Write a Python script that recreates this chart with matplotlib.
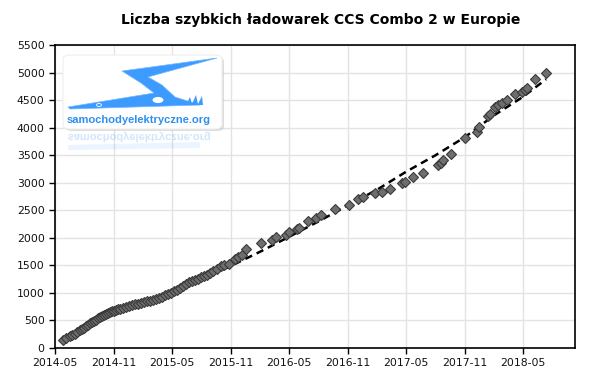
import numpy as np
import matplotlib
matplotlib.use('Agg')
import matplotlib.pyplot as plt
import matplotlib.dates as mdates
from matplotlib.patches import FancyBboxPatch, Polygon, Circle, PathPatch
from matplotlib.textpath import TextPath
from matplotlib.font_manager import FontProperties
from matplotlib.transforms import Affine2D
import pandas as pd

# data
dates = ['2014-05-26', '2014-06-04', '2014-06-17', '2014-06-23', '2014-07-02', '2014-07-09',
         '2014-07-18', '2014-07-24', '2014-07-31', '2014-08-06', '2014-08-12', '2014-08-18',
         '2014-08-25', '2014-08-31', '2014-09-06', '2014-09-12', '2014-09-18', '2014-09-25',
         '2014-10-01', '2014-10-07', '2014-10-13', '2014-10-20', '2014-10-26', '2014-11-01',
         '2014-11-07', '2014-11-14', '2014-11-20', '2014-11-29', '2014-12-09', '2014-12-18',
         '2014-12-27', '2015-01-06', '2015-01-15', '2015-01-24', '2015-02-03', '2015-02-12',
         '2015-02-22', '2015-03-03', '2015-03-12', '2015-03-22', '2015-03-31', '2015-04-09',
         '2015-04-19', '2015-04-28', '2015-05-08', '2015-05-17', '2015-05-26', '2015-06-05',
         '2015-06-14', '2015-06-23', '2015-07-03', '2015-07-12', '2015-07-21', '2015-07-31',
         '2015-08-09', '2015-08-19', '2015-08-28', '2015-09-06', '2015-09-19', '2015-10-01',
         '2015-10-11', '2015-10-26', '2015-11-14', '2015-11-23', '2015-12-06', '2015-12-18',
         '2016-02-03', '2016-03-08', '2016-03-21', '2016-04-21', '2016-05-01', '2016-05-26',
         '2016-06-01', '2016-06-29', '2016-07-24', '2016-08-08', '2016-09-21', '2016-11-04',
         '2016-12-02', '2016-12-18', '2017-01-24', '2017-02-15', '2017-03-12', '2017-04-18',
         '2017-04-28', '2017-05-23', '2017-06-23', '2017-08-09', '2017-08-18', '2017-08-24',
         '2017-09-18', '2017-11-01', '2017-12-09', '2017-12-15', '2018-01-12', '2018-01-18',
         '2018-02-03', '2018-02-12', '2018-02-25', '2018-03-12', '2018-04-06', '2018-04-28',
         '2018-05-07', '2018-05-14', '2018-06-08', '2018-07-12']
chargers = [145, 175, 215, 235, 260, 290,
            320, 345, 370, 395, 420, 445,
            470, 490, 515, 540, 560, 580,
            600, 615, 635, 650, 665, 680,
            690, 700, 715, 730, 745, 760,
            775, 790, 800, 815, 830, 845,
            860, 880, 895, 910, 930, 955,
            975, 1000, 1030, 1060, 1090, 1120,
            1160, 1190, 1215, 1240, 1260, 1280,
            1300, 1330, 1360, 1400, 1440, 1480,
            1510, 1530, 1610, 1660, 1690, 1790,
            1900, 1960, 2010, 2050, 2100, 2160,
            2185, 2305, 2365, 2410, 2520, 2595,
            2700, 2745, 2820, 2840, 2885, 2990,
            3010, 3100, 3180, 3320, 3360, 3410,
            3530, 3805, 3925, 4005, 4215, 4245,
            4370, 4410, 4440, 4500, 4605, 4640,
            4680, 4715, 4880, 5000]

# dashed trend line
trend_dates = ['2014-05-26', '2014-08-01', '2014-11-01', '2015-02-01', '2015-05-01',
               '2015-08-01', '2015-11-01', '2016-02-01', '2016-05-01', '2016-08-01',
               '2016-11-01', '2017-02-01', '2017-05-01', '2017-08-01', '2017-11-01',
               '2018-02-01', '2018-05-01', '2018-07-12']
trend = [140, 380, 620, 830, 1020, 1250, 1490, 1750, 2020, 2300,
         2590, 2880, 3200, 3500, 3830, 4230, 4560, 4880]

tick_dates = ['2014-05', '2014-11', '2015-05', '2015-11', '2016-05',
              '2016-11', '2017-05', '2017-11', '2018-05']

x = pd.to_datetime(dates)
xt = pd.to_datetime(trend_dates)

fig = plt.figure(figsize=(6, 3.81), dpi=100)
ax = fig.add_axes([0.0917, 0.0866, 0.8666, 0.7953])

ax.plot(xt, trend, color='black', lw=1.8, ls=(0, (3, 2)), zorder=3)
ax.plot(x, chargers, ls='none', marker='D', markersize=5,
        markerfacecolor='#6e6e6e', markeredgecolor='#3a3a3a', markeredgewidth=0.8, zorder=4)

ax.set_xlim(pd.Timestamp('2014-05-01'), pd.Timestamp('2018-10-10'))
ax.set_ylim(0, 5500)
ax.set_yticks(np.arange(0, 5501, 500))
ax.set_xticks(pd.to_datetime(tick_dates))
ax.xaxis.set_major_formatter(mdates.DateFormatter('%Y-%m'))
ax.tick_params(labelsize=7.8, length=4, width=1, color='black', labelcolor='#111111')
ax.grid(True, color='#e3e3e3', lw=1)
ax.set_axisbelow(True)
for s in ax.spines.values():
    s.set_linewidth(1.2)
    s.set_color('black')

fig.text(0.535, 0.948, 'Liczba szybkich ładowarek CCS Combo 2 w Europie',
         ha='center', va='center', fontsize=10, fontweight='bold')

# logo (pixel coords, y from top)
W, H = 600, 381
def fx(px):
    return px / W
def fy(py):
    return 1 - py / H

box = FancyBboxPatch((fx(63), fy(129)), fx(222) - fx(63), fy(55) - fy(129),
                     boxstyle='round,pad=0,rounding_size=0.012', transform=fig.transFigure,
                     facecolor='white', edgecolor='#eeeeee', lw=0.8, zorder=5)
shadow = FancyBboxPatch((fx(65), fy(131)), fx(222) - fx(63), fy(55) - fy(129),
                        boxstyle='round,pad=0,rounding_size=0.012', transform=fig.transFigure,
                        facecolor='#c8c8c8', edgecolor='none', alpha=0.6, zorder=4.9)
fig.patches.extend([shadow, box])

bolt = [(217, 58), (122, 71), (141, 83), (154, 93), (68, 107), (70, 109),
        (200, 105), (175, 97), (162, 85), (148, 77)]
fig.patches.append(Polygon([(fx(a), fy(b)) for a, b in bolt], closed=True,
                           transform=fig.transFigure, facecolor='#3d9bff',
                           edgecolor='#70b8ff', lw=0.5, zorder=6))
fig.patches.append(Circle((fx(99), fy(105)), 0.004, transform=fig.transFigure,
                          facecolor='#3d9bff', edgecolor='white', lw=0.6, zorder=7))
fig.patches.append(Circle((fx(158), fy(100)), 0.011, transform=fig.transFigure,
                          facecolor='white', edgecolor='#3d9bff', lw=1.6, zorder=7))
flames = [(186, 105), (190, 97), (192, 104), (196, 95), (198, 104), (202, 96), (203, 105)]
fig.patches.append(Polygon([(fx(a), fy(b)) for a, b in flames], closed=True,
                           transform=fig.transFigure, facecolor='#3d9bff',
                           edgecolor='none', zorder=6))

fig.text(fx(139), fy(120), 'samochodyelektryczne.org', ha='center', va='center',
         fontsize=8, fontweight='bold', color='#2f8fef', family='Liberation Sans', zorder=8)

# faint mirrored reflection below the logo
fp = FontProperties(family='Liberation Sans', weight='bold', size=8)
tp = TextPath((0, 0), 'samochodyelektryczne.org', prop=fp)
bb = tp.get_extents()
tr = (Affine2D().translate(-(bb.x0 + bb.x1) / 2, -(bb.y0 + bb.y1) / 2)
      .scale(100 / 72, -100 / 72).translate(139, H - 137))
fig.patches.append(PathPatch(tr.transform_path(tp), transform=None,
                             facecolor='#2f8fef', edgecolor='none', alpha=0.22, zorder=5))
fig.patches.append(Polygon([(fx(a), fy(b)) for a, b in
                            [(68, 145), (200, 142), (200, 148), (68, 150)]],
                           closed=True, transform=fig.transFigure,
                           facecolor='#3d9bff', edgecolor='none', alpha=0.1, zorder=5))

fig.savefig('out.png', dpi=100)
